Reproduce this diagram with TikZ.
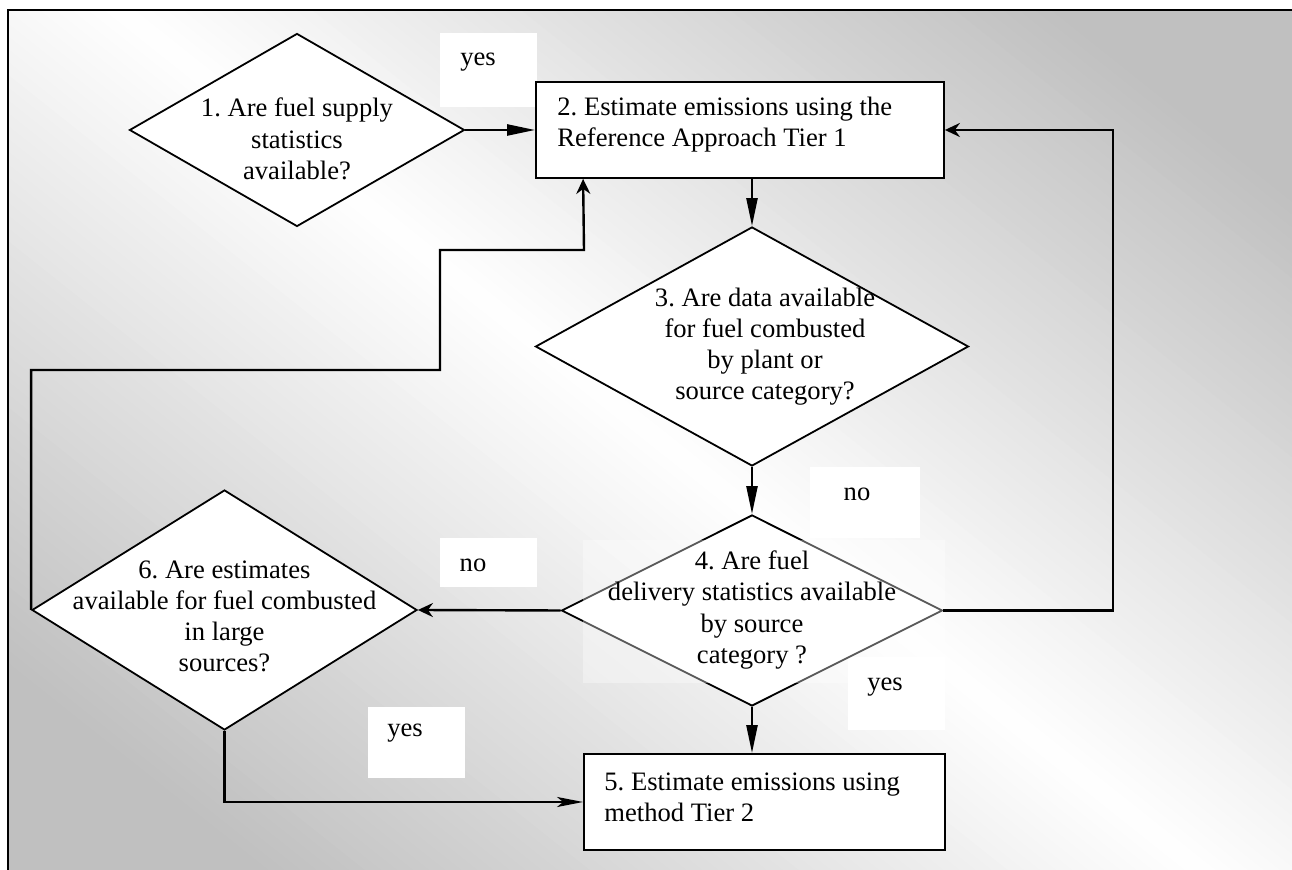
\documentclass[tikz,border=0pt]{standalone}
\usepackage{fontspec}
\setmainfont{Liberation Serif}
\usetikzlibrary{arrows.meta,shapes.geometric}
\begin{document}
\frenchspacing
\begin{tikzpicture}[x=0.5pt,y=-0.5pt,
  dia/.style={diamond, draw=black, fill=white, line width=0.9pt, inner sep=0pt},
  boxnode/.style={rectangle, draw=black, fill=white, line width=0.9pt, inner sep=0pt},
  txt/.style={font=\fontsize{13.3}{15.6}\selectfont, align=center, inner sep=0pt},
  ltxt/.style={font=\fontsize{13.3}{15.6}\selectfont, align=left, inner sep=0pt, anchor=west},
  conn/.style={line width=1.2pt},
  tri/.style={-{Triangle[length=14pt,width=5.5pt]}},
  stl/.style={-{Stealth[length=7.5pt,width=7pt,inset=2.5pt]}},
  stlong/.style={-{Stealth[length=13pt,width=5pt,inset=3pt]}},
  lblbox/.style={fill=white},
  faint/.style={fill=white, fill opacity=0.35}
]
\useasboundingbox (0,0) rectangle (1292,870);
% background gradient
\begin{scope}
\clip (8,10) rectangle (1300,880);
\fill[black!24.7] (0,0) rectangle (1300,880);
\foreach \i in {-80,...,79} {
  \pgfmathsetmacro{\ua}{\i*10}
  \pgfmathsetmacro{\ub}{\i*10+12}
  \pgfmathsetmacro{\um}{abs(\i*10+5)}
  \pgfmathsetmacro{\q}{24.7*min(\um,585)/585}
  \fill[black!\q]
    ({660+0.623*\ua-1096},{440-0.783*\ua-872}) --
    ({660+0.623*\ua+1096},{440-0.783*\ua+872}) --
    ({660+0.623*\ub+1096},{440-0.783*\ub+872}) --
    ({660+0.623*\ub-1096},{440-0.783*\ub-872}) -- cycle;
}
\end{scope}
% frame
\draw[line width=1.1pt] (8,10) rectangle (1320,900);

% label boxes
\path[lblbox] (440,33) rectangle (537,107);
\path[lblbox] (810,467) rectangle (920,538);
\path[lblbox] (440,538) rectangle (537,587);
\path[lblbox] (848,657) rectangle (945,730);
\path[lblbox] (368,707) rectangle (465,778);

% shapes
\node[dia, minimum width=167.5pt, minimum height=96.5pt] (d1) at (297,130) {};
\node[boxnode, minimum width=204pt, minimum height=48pt] (b2) at (740,130) {};
\node[dia, minimum width=216.5pt, minimum height=119.5pt] (d3) at (752,346.5) {};
\node[dia, minimum width=190.5pt, minimum height=95.5pt] (d4) at (752,610.5) {};
\node[boxnode, minimum width=180.5pt, minimum height=48pt] (b5) at (764.5,802) {};
\node[dia, minimum width=192.5pt, minimum height=120pt] (d6) at (224.5,610) {};

% faint overlay over diamond 4
\path[faint] (583,540) rectangle (945,683);

% coordinates
\coordinate (rt) at (1113,130);
\coordinate (k1) at (440,370);
\coordinate (k2) at (584,250);

% connectors
\draw[conn, tri] (d1.east) -- (b2.west);
\draw[conn, tri] (d3.north |- b2.south) -- (d3.north);
\draw[conn, tri] (d3.south) -- (d4.north);
\draw[conn, tri] (d4.south) -- (d4.south |- b5.north);
\draw[conn, stl] (d4.east) -| (rt) -- (b2.east);
\draw[conn, stl] (d4.west) -- (d6.east);
\draw[conn, stl] (d6.west) |- (k1) |- (k2) -- ([xshift=24pt]b2.south west);
\draw[conn, stlong] (d6.south) |- (b5.west);

% texts
\node[txt] (t1) at (297,139) {1. Are fuel supply\\statistics\\available?};
\node[ltxt] (t2) at (557,125) {2. Estimate emissions using the\\Reference Approach Tier 1};
\node[txt] (t3) at (765,346.5) {3. Are data available\\for fuel combusted\\by plant or\\source category?};
\node[txt] (t4) at (752,610) {4. Are fuel\\delivery statistics available\\by source\\category ?};
\node[ltxt] (t5) at (604,797.5) {5. Estimate emissions using\\method Tier 2};
\node[txt] (t6) at (224.5,616.5) {6. Are estimates\\available for fuel combusted\\in large\\sources?};

\node[txt] (l1) at (478,62) {yes};
\node[txt] (l2) at (857,494) {no};
\node[txt] (l3) at (473,565) {no};
\node[txt] (l4) at (885,687) {yes};
\node[txt] (l5) at (405,733) {yes};
\end{tikzpicture}
\end{document}
